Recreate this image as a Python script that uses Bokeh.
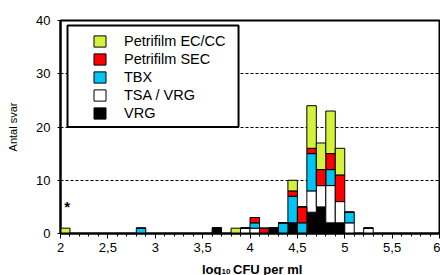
from bokeh.plotting import figure
from bokeh.layouts import column
from bokeh.models import (ColumnDataSource, FixedTicker, Legend, LegendItem, Range1d)
from bokeh.core.properties import value
from bokeh.embed import file_html
from bokeh.resources import INLINE

# ---- data (log10 CFU per ml bins of width 0.1, left edges) ----
bin_left = [2.0, 2.8, 3.6, 3.8, 3.9, 4.0, 4.1, 4.2, 4.3, 4.4, 4.5, 4.6, 4.7, 4.8, 4.9, 5.0, 5.2]
vrg      = [0, 0, 1, 0, 0, 0, 0, 1, 0, 2, 0, 4, 5, 2, 2, 0, 0]
tsa_vrg  = [0, 0, 0, 0, 1, 1, 0, 0, 0, 0, 0, 4, 4, 7, 4, 2, 1]
tbx      = [0, 1, 0, 0, 0, 1, 0, 0, 2, 5, 2, 7, 0, 3, 0, 2, 0]
sec      = [0, 0, 0, 0, 0, 1, 1, 0, 0, 1, 3, 1, 3, 3, 5, 0, 0]
eccc     = [1, 0, 0, 1, 0, 0, 0, 0, 0, 2, 0, 8, 5, 8, 5, 0, 0]

series_keys   = ["vrg", "tsa_vrg", "tbx", "sec", "eccc"]
series_names  = ["VRG", "TSA / VRG", "TBX", "Petrifilm SEC", "Petrifilm EC/CC"]
series_colors = ["#000000", "#ffffff", "#00c4f4", "#ff0000", "#d4f23c"]

x_ticks = [2, 2.5, 3, 3.5, 4, 4.5, 5, 5.5, 6]
x_tick_labels = ["2", "2,5", "3", "3,5", "4", "4,5", "5", "5,5", "6"]
y_ticks = [0, 10, 20, 30, 40]

note_x = [2.07]
note_y = [5]
note_text = ["*"]

x_title_parts = ["log", "10", "CFU per ml"]

bin_width = 0.1
FONT = "Liberation Sans"

src = ColumnDataSource(dict(
    x=[b + bin_width / 2 for b in bin_left],
    vrg=vrg, tsa_vrg=tsa_vrg, tbx=tbx, sec=sec, eccc=eccc,
))

p = figure(width=440, height=259, x_range=Range1d(2, 6), y_range=Range1d(0, 40),
           output_backend="svg", toolbar_location=None,
           min_border_left=60, min_border_right=1, min_border_top=20, min_border_bottom=26)
p.background_fill_color = "white"
p.border_fill_color = "white"
p.outline_line_color = "black"
p.outline_line_width = 2

# white framed panel behind the legend
p.quad(left=[2.074], right=[3.879], bottom=[20], top=[39.06],
       fill_color="white", line_color="black", line_width=2)

rs = p.vbar_stack(series_keys, x="x", width=bin_width, source=src,
                  fill_color=series_colors, line_color="black", line_width=1)

p.text(x=note_x, y=note_y, text=note_text, text_font=value(FONT),
       text_font_size="15px", text_font_style="bold",
       text_align="center", text_baseline="middle", text_color="black")

# axes
xa = p.xaxis[0]
xa.ticker = FixedTicker(ticks=x_ticks, minor_ticks=[2 + i / 10 for i in range(41)])
xa.major_label_overrides = {t: l for t, l in zip(x_ticks, x_tick_labels)}
xa.major_label_text_font = FONT
xa.major_label_text_font_size = "13px"
xa.major_label_text_color = "black"
xa.major_tick_in = 0
xa.major_tick_out = 5
xa.minor_tick_in = 0
xa.minor_tick_out = 3
xa.major_label_standoff = 4
xa.axis_line_width = 2
xa.axis_line_color = "black"
xa.major_tick_line_color = "black"
xa.minor_tick_line_color = "black"

ya = p.yaxis[0]
ya.ticker = FixedTicker(ticks=y_ticks)
ya.major_label_text_font = FONT
ya.major_label_text_font_size = "13px"
ya.major_label_text_color = "black"
ya.major_tick_in = 0
ya.major_tick_out = 3
ya.minor_tick_line_color = None
ya.major_label_standoff = 7
ya.axis_line_width = 2
ya.axis_line_color = "black"
ya.major_tick_line_color = "black"
ya.axis_label = "Antal svar"
ya.axis_label_text_font = FONT
ya.axis_label_text_font_size = "11px"
ya.axis_label_text_font_style = "normal"
ya.axis_label_text_color = "black"
ya.axis_label_standoff = 14

p.xgrid.visible = False
p.ygrid.ticker = FixedTicker(ticks=[10, 20, 30])
p.ygrid.grid_line_color = "black"
p.ygrid.grid_line_dash = "3 2"
p.ygrid.grid_line_width = 1

items = [LegendItem(label=series_names[i], renderers=[rs[i]]) for i in [4, 3, 2, 1, 0]]
legend = Legend(items=items, location=(32, 112), padding=0, margin=0, spacing=2,
                glyph_width=15, glyph_height=14, label_height=14, label_standoff=17,
                label_text_font=FONT, label_text_font_size="14.5px", label_text_color="black",
                border_line_alpha=0, background_fill_alpha=0)
p.add_layout(legend, "center")

# x-axis title strip (log10 with subscript) below the chart
p2 = figure(width=440, height=16, x_range=p.x_range, y_range=Range1d(0, 16),
            output_backend="svg", toolbar_location=None,
            x_axis_type=None, y_axis_type=None,
            min_border_left=60, min_border_right=1, min_border_top=0, min_border_bottom=0)
p2.outline_line_color = None
p2.background_fill_color = "white"
p2.border_fill_color = "white"
p2.xgrid.visible = False
p2.ygrid.visible = False

title_src = ColumnDataSource(dict(
    x=[4, 4, 4], y=[6.5, 4, 6.5], text=x_title_parts,
    dx=[-48, -28.5, -17], size=["13px", "8px", "13px"],
))
p2.text(x="x", y="y", text="text", x_offset="dx", text_font_size="size", source=title_src,
        text_font=value(FONT), text_font_style="bold", text_color="black",
        text_align="left", text_baseline="alphabetic")

layout = column(p, p2, spacing=0)
open("out.html", "w").write(file_html(layout, INLINE))
